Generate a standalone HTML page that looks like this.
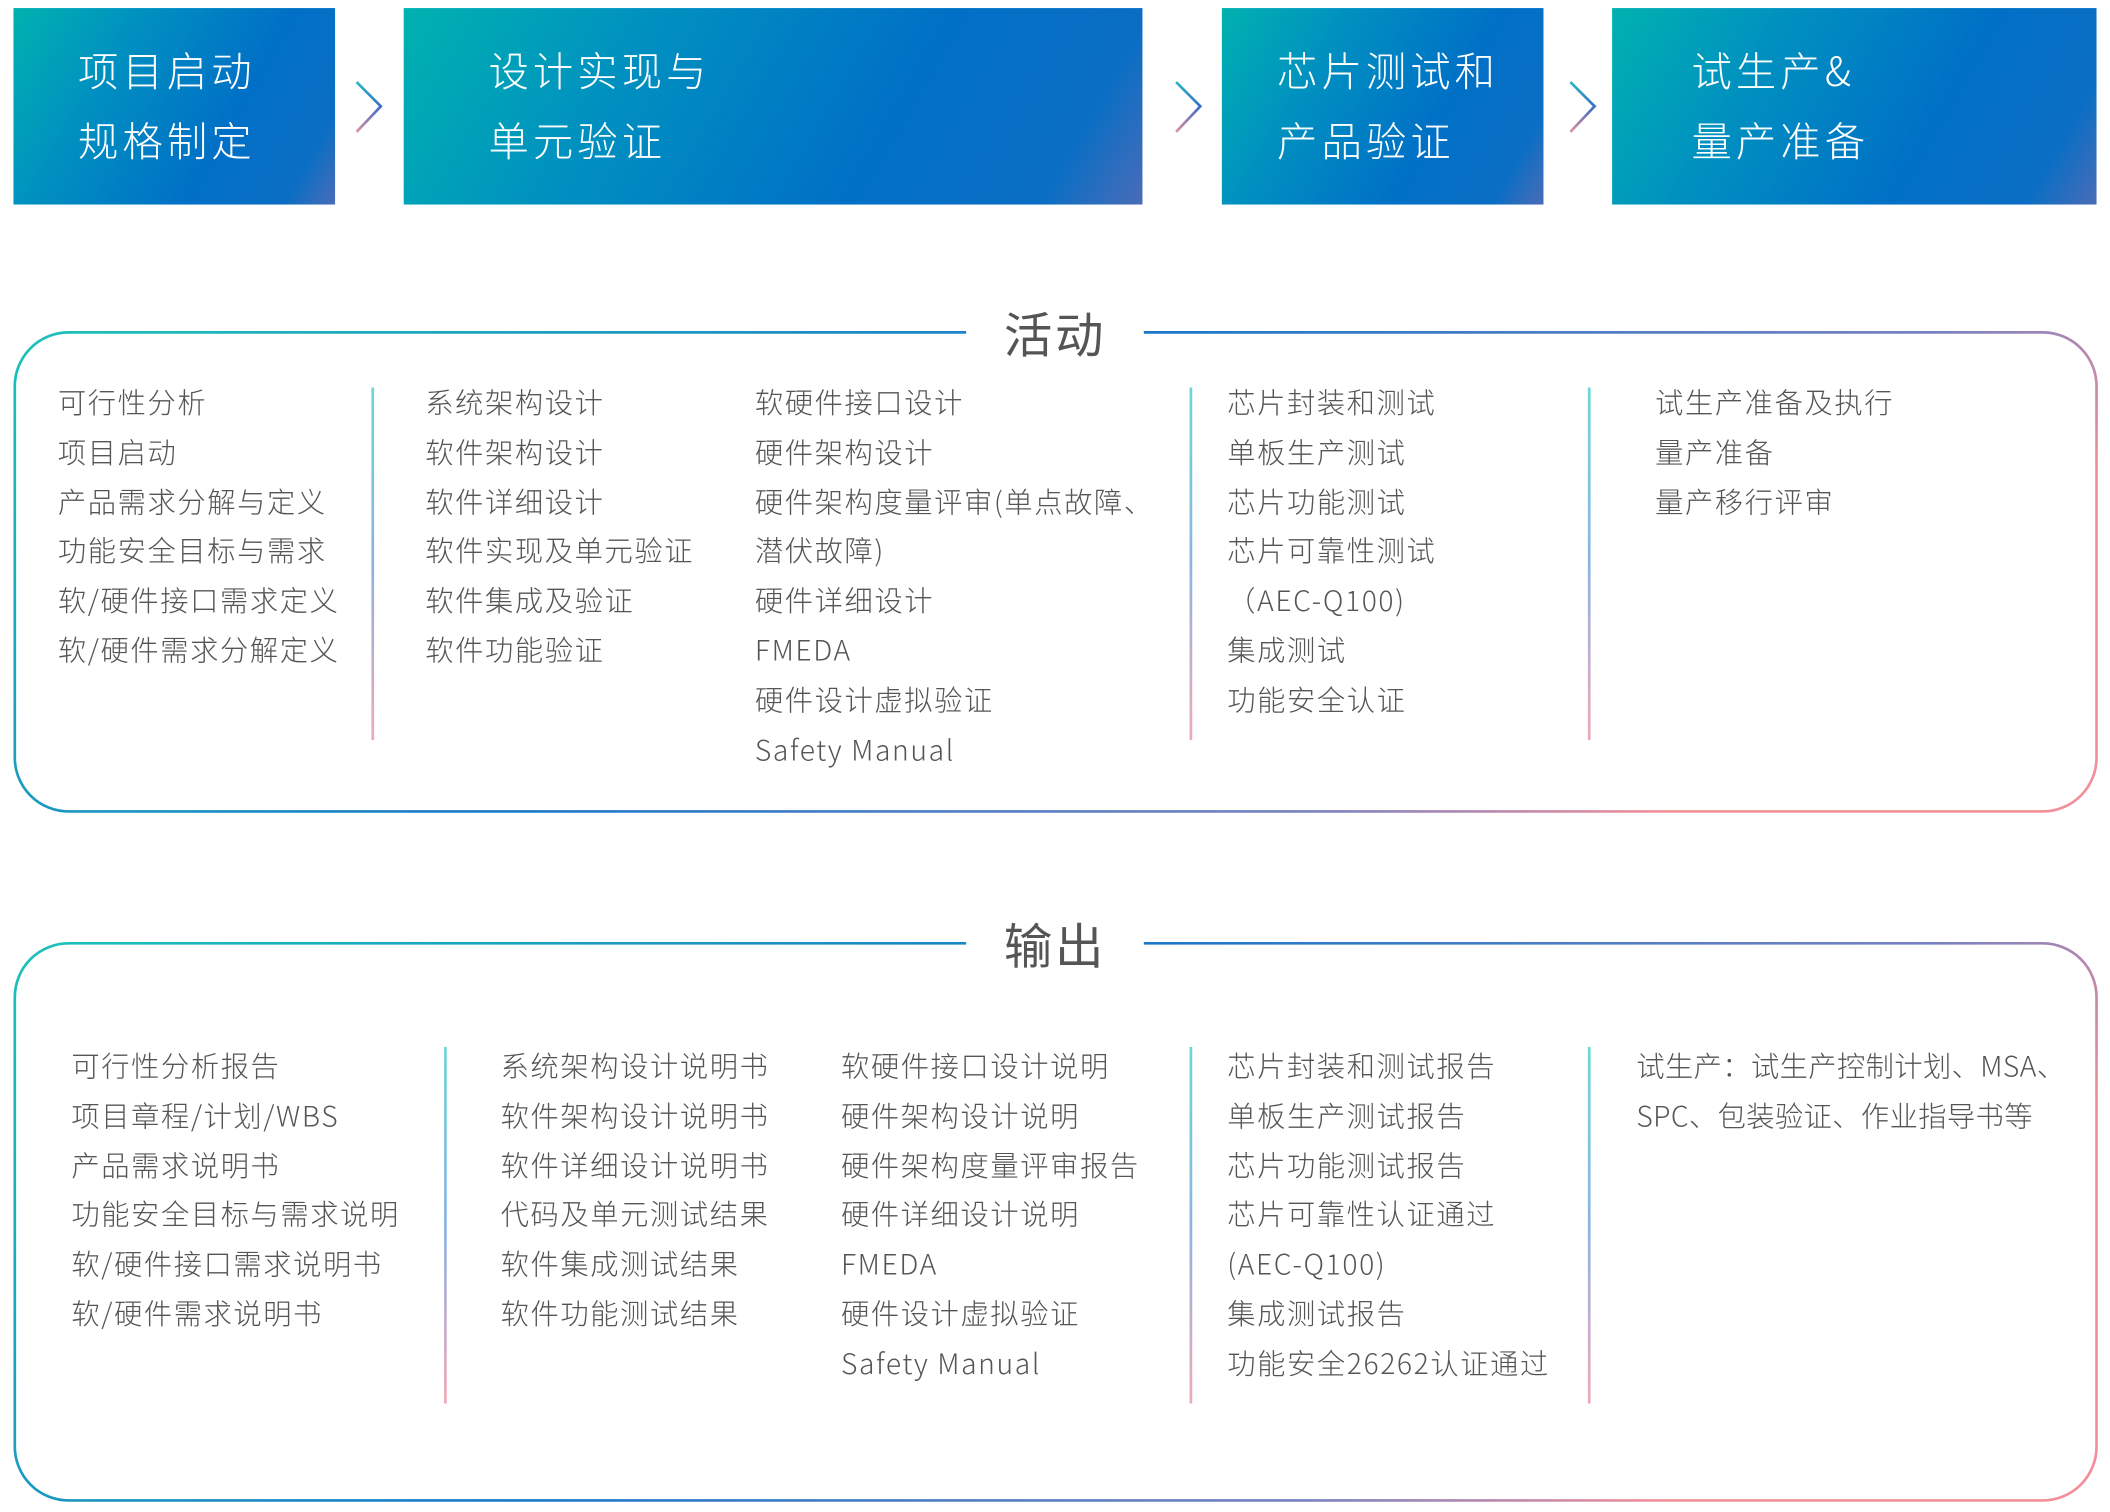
<!DOCTYPE html>
<html><head><meta charset="utf-8"><style>
html,body{margin:0;padding:0;background:#fff;width:2110px;height:1512px;overflow:hidden}
#w{position:absolute;left:0;top:0;width:1568px;height:1123px;transform:scale(1.34566);transform-origin:0 0;font-family:"Noto Sans CJK SC","Liberation Sans",sans-serif}
.box{position:absolute;top:6px;height:146px;background:linear-gradient(120deg,#00b2b0 0%,#0090c0 30%,#0070c6 65%,#0a6ec4 88%,#4a6cb8 100%);color:#fff;font-size:30px;font-weight:300;letter-spacing:3px}
.box div{position:absolute;line-height:52px;top:19px}
.col{position:absolute;color:#555;font-size:21px;font-weight:300;white-space:nowrap;letter-spacing:1.2px}
.col div{height:36.8px;line-height:36.8px}
.div{position:absolute;width:2px;background:linear-gradient(#6ed6d6,#8bb3e6,#f2a9b5)}
.title{position:absolute;background:#fff;color:#555;font-size:36px;width:132px;text-align:center;line-height:50px;letter-spacing:2px}
svg{position:absolute;left:0;top:0}
</style></head><body><div id="w">
<svg width="1568" height="1123">
<defs>
<linearGradient id="bg" x1="0" y1="0" x2="1" y2="0.3"><stop offset="0" stop-color="#1cc2b8"/><stop offset="0.5" stop-color="#1a78c8"/><stop offset="0.85" stop-color="#7a82c0"/><stop offset="1" stop-color="#f2909a"/></linearGradient>
<linearGradient id="cg" x1="0" y1="0" x2="0" y2="1"><stop offset="0" stop-color="#2ab8c0"/><stop offset="0.5" stop-color="#3a6cc8"/><stop offset="1" stop-color="#e0909c"/></linearGradient>
</defs>
<rect x="11" y="247" width="1547" height="356" rx="40" fill="none" stroke="url(#bg)" stroke-width="2"/>
<rect x="11" y="701" width="1547" height="414" rx="40" fill="none" stroke="url(#bg)" stroke-width="2"/>
<polyline points="265,61 283,79 265,98" fill="none" stroke="url(#cg)" stroke-width="2"/>
<polyline points="874,61 892,79 874,98" fill="none" stroke="url(#cg)" stroke-width="2"/>
<polyline points="1167,61 1185,79 1167,98" fill="none" stroke="url(#cg)" stroke-width="2"/>
</svg>
<div class="box" style="left:10px;width:239px"><div style="left:48px">项目启动<br>规格制定</div></div>
<div class="box" style="left:300px;width:549px"><div style="left:63px">设计实现与<br>单元验证</div></div>
<div class="box" style="left:908px;width:239px"><div style="left:41px">芯片测试和<br>产品验证</div></div>
<div class="box" style="left:1198px;width:360px"><div style="left:59px">试生产&amp;<br>量产准备</div></div>

<div class="title" style="left:718px;top:222px">活动</div>
<div class="col" style="left:43px;top:281px"><div>可行性分析</div><div>项目启动</div><div>产品需求分解与定义</div><div>功能安全目标与需求</div><div>软/硬件接口需求定义</div><div>软/硬件需求分解定义</div></div>
<div class="col" style="left:316px;top:281px"><div>系统架构设计</div><div>软件架构设计</div><div>软件详细设计</div><div>软件实现及单元验证</div><div>软件集成及验证</div><div>软件功能验证</div></div>
<div class="col" style="left:561px;top:281px"><div>软硬件接口设计</div><div>硬件架构设计</div><div>硬件架构度量评审(单点故障、</div><div>潜伏故障)</div><div>硬件详细设计</div><div>FMEDA</div><div>硬件设计虚拟验证</div><div>Safety Manual</div></div>
<div class="col" style="left:912px;top:281px"><div>芯片封装和测试</div><div>单板生产测试</div><div>芯片功能测试</div><div>芯片可靠性测试</div><div>（AEC-Q100)</div><div>集成测试</div><div>功能安全认证</div></div>
<div class="col" style="left:1230px;top:281px"><div>试生产准备及执行</div><div>量产准备</div><div>量产移行评审</div></div>
<div class="div" style="left:276px;top:288px;height:262px"></div>
<div class="div" style="left:884px;top:288px;height:262px"></div>
<div class="div" style="left:1180px;top:288px;height:262px"></div>

<div class="title" style="left:718px;top:676px">输出</div>
<div class="col" style="left:53px;top:774px"><div>可行性分析报告</div><div>项目章程/计划/WBS</div><div>产品需求说明书</div><div>功能安全目标与需求说明</div><div>软/硬件接口需求说明书</div><div>软/硬件需求说明书</div></div>
<div class="col" style="left:372px;top:774px"><div>系统架构设计说明书</div><div>软件架构设计说明书</div><div>软件详细设计说明书</div><div>代码及单元测试结果</div><div>软件集成测试结果</div><div>软件功能测试结果</div></div>
<div class="col" style="left:625px;top:774px"><div>软硬件接口设计说明</div><div>硬件架构设计说明</div><div>硬件架构度量评审报告</div><div>硬件详细设计说明</div><div>FMEDA</div><div>硬件设计虚拟验证</div><div>Safety Manual</div></div>
<div class="col" style="left:912px;top:774px"><div>芯片封装和测试报告</div><div>单板生产测试报告</div><div>芯片功能测试报告</div><div>芯片可靠性认证通过</div><div>(AEC-Q100)</div><div>集成测试报告</div><div>功能安全26262认证通过</div></div>
<div class="col" style="left:1216px;top:774px;letter-spacing:0.3px"><div>试生产：试生产控制计划、MSA、</div><div>SPC、包装验证、作业指导书等</div></div>
<div class="div" style="left:330px;top:778px;height:265px"></div>
<div class="div" style="left:884px;top:778px;height:265px"></div>
<div class="div" style="left:1180px;top:778px;height:265px"></div>
</div></body></html>
